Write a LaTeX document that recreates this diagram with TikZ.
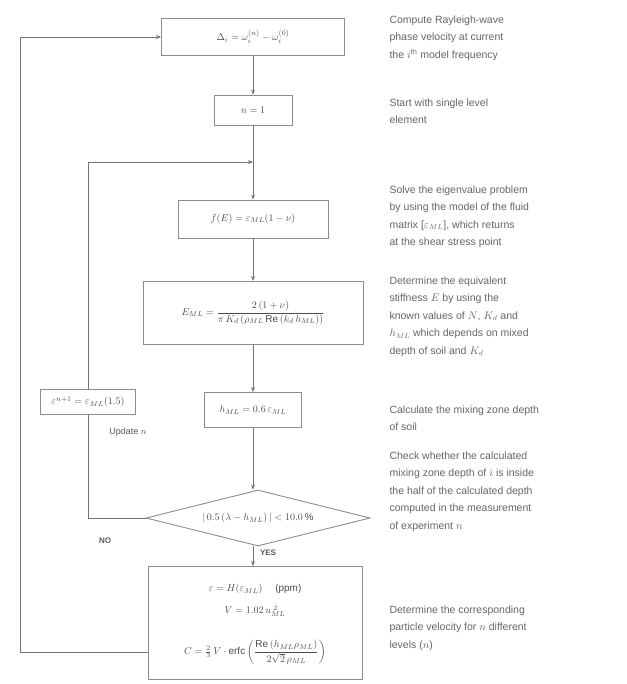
\documentclass[tikz,border=0pt]{standalone}
\usepackage{fontspec}
\setmainfont{Liberation Sans}
\usepackage{amsmath}
\usetikzlibrary{shapes.geometric,arrows.meta}
\begin{document}
\begin{tikzpicture}[x=1pt,y=-1pt,
  line/.style={draw=black!55,line width=0.8pt},
  arr/.style={line,-{Stealth[length=5pt,width=4pt]}},
  box/.style={draw=black!45,line width=0.9pt,fill=white,inner sep=2pt,text=black!70},
  dia/.style={diamond,aspect=4,draw=black!45,line width=0.9pt,inner sep=1pt,text=black!70},
  note/.style={anchor=north west,align=left,text=black!60,font=\fontsize{10.5}{17.5}\selectfont},
  inbox/.style={text=black!70,inner sep=0pt},
  lab/.style={text=black!65,font=\bfseries\fontsize{8}{10}\selectfont}]
\useasboundingbox (0,0) rectangle (626,684);
\fill[white] (0,0) rectangle (626,684);

\node[box,minimum width=183pt,minimum height=37pt] (b1) at (253,37) {$\Delta_i = \omega_{i}^{(n)} - \omega_{i}^{(0)}$};
\node[box,minimum width=78pt,minimum height=30pt] (b2) at (253,110) {$n=1$};
\coordinate (j) at (253,162);
\node[box,minimum width=150pt,minimum height=38pt] (b3) at (253,219) {$f(E) = \varepsilon_{ML}(1-\nu)$};
\node[box,minimum width=220pt,minimum height=63pt] (b4) at (253,313) {$E_{ML} = \dfrac{2\,(1+\nu)}{\pi\, K_d\,(\rho_{ML}\,\mathrm{Re}\,(k_d\, h_{ML}))}$};
\node[box,minimum width=97pt,minimum height=35pt] (b5) at (253,410) {$h_{ML} = 0.6\,\varepsilon_{ML}$};
\node[dia,minimum width=224pt,minimum height=56pt] (d) at (258,518) {$|\,0.5\,(\lambda - h_{ML})\,| < 10.0\,\%$};
\node[box,minimum width=214pt,minimum height=113pt] (fin) at (255,623) {};
\node[inbox] (f1) at (255,589) {$\varepsilon = H(\varepsilon_{ML})$ \quad (ppm)};
\node[inbox] (f2) at (255,611) {$V = 1.02\,u_{ML}^{\;2}$};
\node[inbox] (f3) at (255,652) {$C = \tfrac{2}{3}\,V \cdot \mathrm{erfc}\left(\dfrac{\mathrm{Re}\,(h_{ML}\rho_{ML})}{2\sqrt{2}\,\rho_{ML}}\right)$};

\node[box,minimum width=95pt,minimum height=25pt] (lb) at (88,402) {$\varepsilon^{n+1} = \varepsilon_{ML}(1.5)$};
\node[text=black!65,font=\fontsize{9}{11}\selectfont] (upd) at (128,432) {Update $n$};

\node[lab] (no) at (105,541) {NO};
\node[lab] (yes) at (268,553) {YES};

% main flow
\draw[arr] (b1.south) -- (b2.north);
\draw[line] (b2.south) -- (j);
\draw[arr] (j) -- (b3.north);
\draw[arr] (b3.south) -- (b4.north);
\draw[arr] (b4.south) -- (b5.north);
\draw[arr] (b5.south) -- (b5.south |- d.north);
\draw[arr] (b5.south |- d.south) -- (b5.south |- fin.north);
% inner loop
\draw[line] (d.west) -- (lb.south |- d.west) -- (lb.south);
\draw[arr] (lb.north) -- (lb.north |- j) -- (j);
% outer loop
\draw[arr] (fin.west |- f3) -- (20,652) -- (20,37) -- (b1.west);

% notes
\node[note] (n1) at (386,12) {Compute Rayleigh-wave\\phase velocity at current\\the $i^{\mathrm{th}}$ model frequency};
\node[note] (n2) at (386,95) {Start with single level\\element};
\node[note] (n3) at (386,182) {Solve the eigenvalue problem\\by using the model of the fluid\\matrix [$\varepsilon_{ML}$], which returns\\at the shear stress point};
\node[note] (n4) at (386,273) {Determine the equivalent\\stiffness $E$ by using the\\known values of $N$, $K_d$ and\\$h_{ML}$ which depends on mixed\\depth of soil and $K_d$};
\node[note] (n5) at (386,402) {Calculate the mixing zone depth\\of soil};
\node[note] (n6) at (386,448) {Check whether the calculated\\mixing zone depth of $i$ is inside\\the half of the calculated depth\\computed in the measurement\\of experiment $n$};
\node[note] (n7) at (386,602) {Determine the corresponding\\particle velocity for $n$ different\\levels ($n$)};
\end{tikzpicture}
\end{document}
